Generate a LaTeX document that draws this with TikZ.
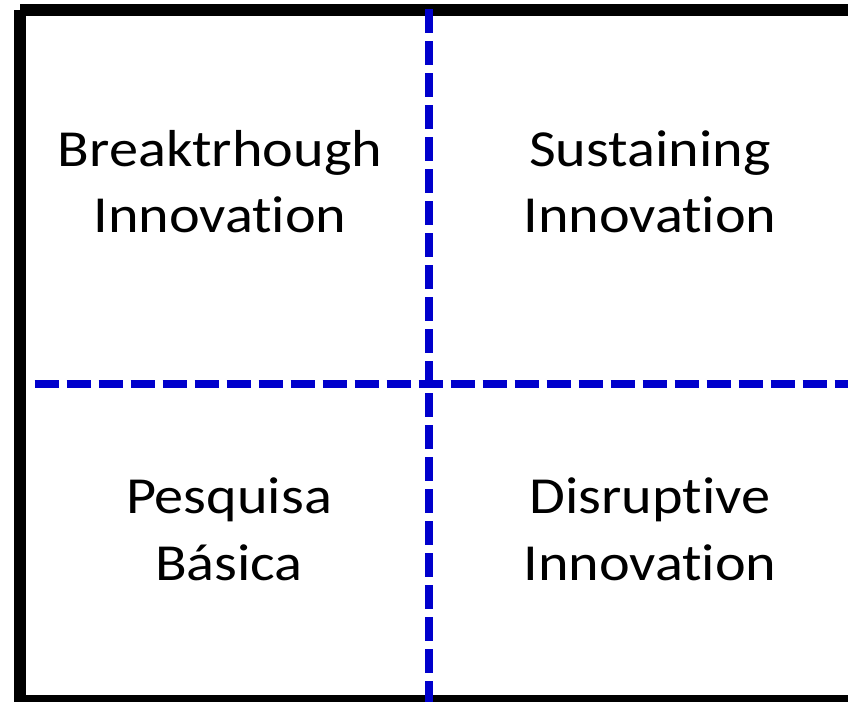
\documentclass[tikz,border=0pt]{standalone}
\usepackage{fontspec}
\setmainfont{Carlito}
\newfontfamily\labelfont{Carlito}[FakeStretch=1.12, Ligatures={NoCommon}]
\definecolor{dashblue}{RGB}{0,0,204}
\tikzset{
  frameline/.style={line width=12pt, black, line cap=butt},
  splitline/.style={line width=8pt, dashblue, dash pattern=on 24pt off 8pt, line cap=butt},
  label/.style={anchor=base, inner sep=0pt, font=\labelfont\fontsize{52}{66}\selectfont}
}
\begin{document}
\begin{tikzpicture}[x=1pt,y=-1pt]
\useasboundingbox (0,0) rectangle (848,701);
\clip (0,0) rectangle (848,701);
% corner coordinates
\coordinate (tl) at (20,10);
\coordinate (tr) at (870,10);
\coordinate (bl) at (20,707);
\coordinate (blb) at (14,701);
\coordinate (br) at (870,701);
\coordinate (vtop) at (428.7,9.3);
\coordinate (vbot) at (428.7,720);
\coordinate (hl) at (34.7,384);
\coordinate (hr) at (870,384);
% frame
\draw[frameline] (tl) -- (bl);
\draw[frameline] (tl) -- (tr);
\draw[frameline] (blb) -- (br);
% dashed dividers
\draw[splitline] (vtop) -- (vbot);
\draw[splitline] (hl) -- (hr);
% labels
\node[label] (tla) at (220,166.7) {Breaktrhough};
\node[label] (tlb) at (220,232.7) {Innovation};
\node[label] (tra) at (650,166.7) {Sustaining};
\node[label] (trb) at (650,232.7) {Innovation};
\node[label] (bla) at (229,513.3) {Pesquisa};
\node[label] (blc) at (229,580) {Básica};
\node[label] (bra) at (650,513.3) {Disruptive};
\node[label] (brb) at (650,580) {Innovation};
\end{tikzpicture}
\end{document}
